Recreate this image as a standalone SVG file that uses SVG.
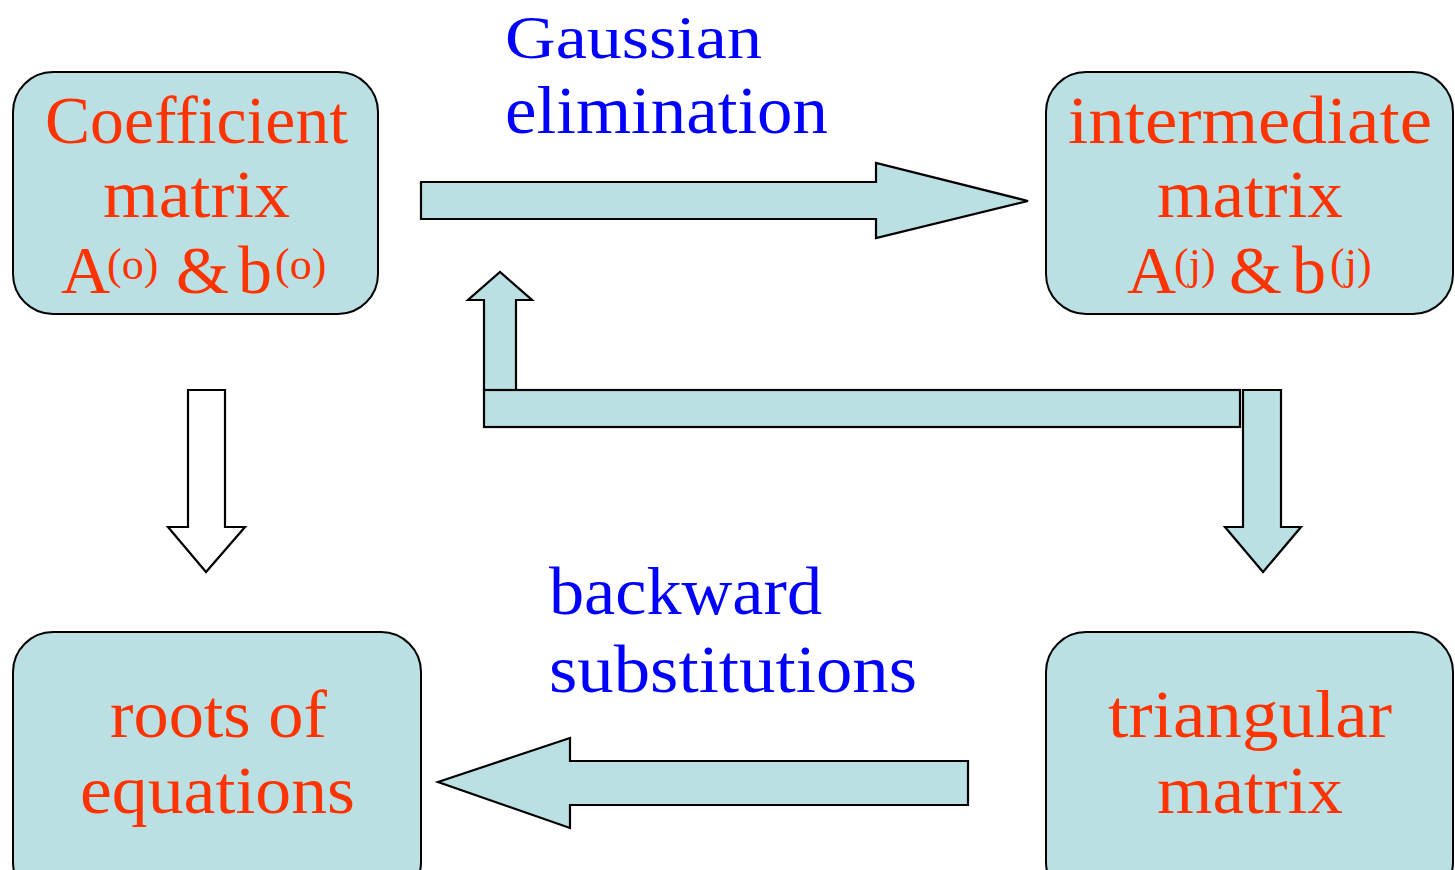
<svg xmlns="http://www.w3.org/2000/svg" width="1455" height="870" viewBox="0 0 1455 870">
<style>
.box{fill:#BBE0E3;stroke:#000;stroke-width:2}
.arr{fill:#BBE0E3;stroke:#000;stroke-width:2.2;stroke-linejoin:miter}
.hollow{fill:#fff;stroke:#000;stroke-width:2.2}
.t{font-family:"Liberation Serif","Times New Roman",serif;font-size:68px;fill:#FF3300}
.s{font-size:44px}
.b{font-family:"Liberation Serif","Times New Roman",serif;font-size:68px;fill:#0000FF}
</style>
<rect width="1455" height="870" fill="#fff"/>
<g id="connectors">
<polygon class="arr" points="421,182 876,182 876,163 1028,201 876,238 876,219 421,219"/>
<polygon class="arr" points="484,390 484,300 468,300 500,272 532,300 516,300 516,390"/>
<rect class="arr" x="484" y="390" width="756" height="37"/>
<polygon class="arr" points="1243,390 1281,390 1281,527 1301,527 1263,572 1225,527 1243,527"/>
<polygon class="hollow" points="188,390 225,390 225,527 245,527 206,572 168,527 188,527"/>
<polygon class="arr" points="968,761 570,761 570,738 438,782 570,828 570,805 968,805"/>
</g>
<g id="label-gauss">
<text class="b" x="505" y="58" style="font-size:62px" textLength="257" lengthAdjust="spacingAndGlyphs">Gaussian</text>
<text class="b" x="505" y="133" textLength="323" lengthAdjust="spacingAndGlyphs">elimination</text>
</g>
<g id="label-back">
<text class="b" x="549" y="614" textLength="273" lengthAdjust="spacingAndGlyphs">backward</text>
<text class="b" x="549" y="692" textLength="368" lengthAdjust="spacingAndGlyphs">substitutions</text>
</g>
<g id="node-coef">
<rect class="box" x="13" y="72" width="365" height="242" rx="40"/>
<text class="t" x="45" y="143" textLength="303" lengthAdjust="spacingAndGlyphs">Coefficient</text>
<text class="t" x="103" y="217" textLength="187" lengthAdjust="spacingAndGlyphs">matrix</text>
<text class="t" y="293"><tspan x="61">A</tspan><tspan class="s" x="107" y="279">(o)</tspan><tspan x="176" y="293">&amp;</tspan><tspan x="238">b</tspan><tspan class="s" x="275" y="279">(o)</tspan></text>
</g>
<g id="node-inter">
<rect class="box" x="1046" y="72" width="407" height="242" rx="40"/>
<text class="t" x="1068" y="143" textLength="364" lengthAdjust="spacingAndGlyphs">intermediate</text>
<text class="t" x="1157" y="217" textLength="186" lengthAdjust="spacingAndGlyphs">matrix</text>
<text class="t" y="293"><tspan x="1127">A</tspan><tspan class="s" x="1174" y="279">(j)</tspan><tspan x="1229" y="293">&amp;</tspan><tspan x="1292">b</tspan><tspan class="s" x="1330" y="279">(j)</tspan></text>
</g>
<g id="node-roots">
<rect class="box" x="13" y="632" width="408" height="270" rx="40"/>
<text class="t" x="110" y="737" textLength="217" lengthAdjust="spacingAndGlyphs">roots of</text>
<text class="t" x="80" y="813" textLength="275" lengthAdjust="spacingAndGlyphs">equations</text>
</g>
<g id="node-tri">
<rect class="box" x="1046" y="632" width="407" height="270" rx="40"/>
<text class="t" x="1108" y="737" textLength="284" lengthAdjust="spacingAndGlyphs">triangular</text>
<text class="t" x="1157" y="813" textLength="186" lengthAdjust="spacingAndGlyphs">matrix</text>
</g>
</svg>
